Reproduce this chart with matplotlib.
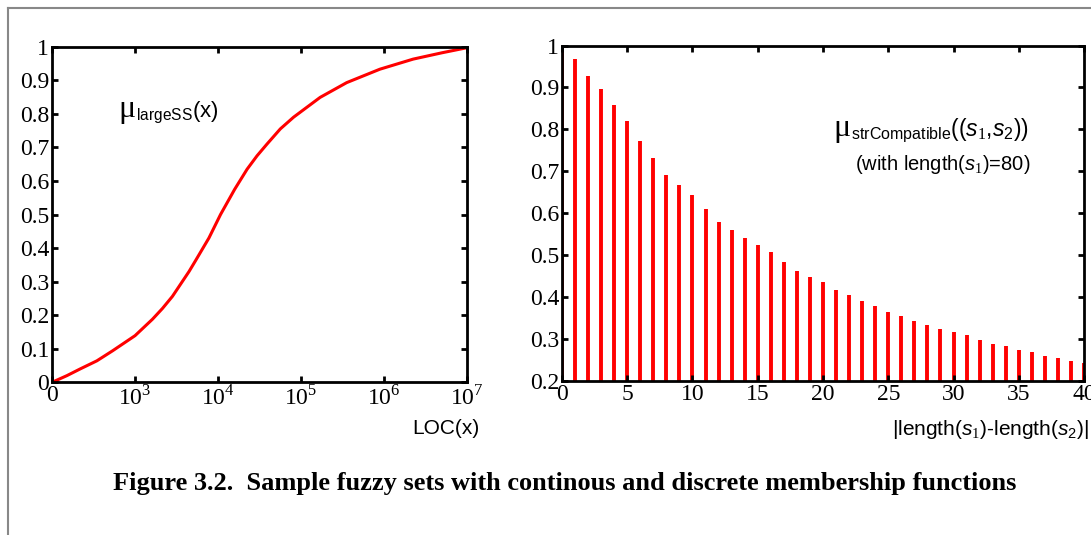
import matplotlib
matplotlib.use("Agg")
import matplotlib.pyplot as plt
from matplotlib.lines import Line2D

# continuous membership function
# (x = position on the LOC axis in decades: 0 -> "0", 1 -> 10^3, ..., 5 -> 10^7)
LOC_POS = [0.0, 0.18, 0.34, 0.54, 0.73, 1.0, 1.21, 1.33, 1.45, 1.65, 1.73, 1.89, 2.03,
           2.2, 2.35, 2.47, 2.59, 2.75, 2.91, 3.23, 3.55, 3.95, 4.35, 4.7, 5.0]
MU_LARGE = [0.0, 0.02, 0.04, 0.064, 0.094, 0.139, 0.188, 0.22, 0.256, 0.33, 0.363, 0.43,
            0.50, 0.575, 0.635, 0.675, 0.71, 0.755, 0.79, 0.849, 0.893, 0.933, 0.963,
            0.982, 0.997]
LOC_TICKS = [0, 1, 2, 3, 4, 5]
LOC_TICK_LABELS = ["0", "10$^{3}$", "10$^{4}$", "10$^{5}$", "10$^{6}$", "10$^{7}$"]

# discrete membership function
LEN_DIFF = list(range(0, 41))
MU_STR = [1.0, 0.968, 0.928, 0.897, 0.859, 0.819, 0.772, 0.731, 0.692, 0.668, 0.644,
          0.611, 0.580, 0.561, 0.542, 0.524, 0.507, 0.484, 0.463, 0.448, 0.436,
          0.418, 0.405, 0.391, 0.378, 0.364, 0.355, 0.342, 0.334, 0.323, 0.316,
          0.309, 0.298, 0.289, 0.284, 0.275, 0.269, 0.260, 0.254, 0.247, 0.244]

Y_LEFT_TICKS = [0, 0.1, 0.2, 0.3, 0.4, 0.5, 0.6, 0.7, 0.8, 0.9, 1]
Y_LEFT_LABELS = ["0", "0.1", "0.2", "0.3", "0.4", "0.5", "0.6", "0.7", "0.8", "0.9", "1"]
Y_RIGHT_TICKS = [0.2, 0.3, 0.4, 0.5, 0.6, 0.7, 0.8, 0.9, 1]
Y_RIGHT_LABELS = ["0.2", "0.3", "0.4", "0.5", "0.6", "0.7", "0.8", "0.9", "1"]
X_RIGHT_TICKS = [0, 5, 10, 15, 20, 25, 30, 35, 40]

CAPTION = "Figure 3.2.  Sample fuzzy sets with continous and discrete membership functions"

plt.rcParams["font.family"] = ["Liberation Serif", "DejaVu Serif"]
plt.rcParams["mathtext.fontset"] = "custom"
plt.rcParams["mathtext.rm"] = "Liberation Serif"
plt.rcParams["mathtext.sf"] = "Liberation Sans"
plt.rcParams["mathtext.it"] = "Liberation Sans:italic"


def style_axes(ax):
    for sp in ax.spines.values():
        sp.set_linewidth(2.0)
    ax.tick_params(direction="in", length=4, width=2, top=True, right=True,
                   labelsize=17, pad=2)


def mu_label(ax, x, y, rest, size=16):
    # big serif mu, then subscript and argument on the same baseline
    mu = ax.text(x, y, "\u03bc", transform=ax.transAxes, va="baseline",
                 family="Liberation Serif", fontsize=23)
    ax.annotate(rest, xy=(1, 0), xycoords=mu, xytext=(0.5, 5.0),
                textcoords="offset points", va="baseline", ha="left",
                family="Liberation Sans", fontsize=size)


fig = plt.figure(figsize=(10.91, 5.35), dpi=100)

# left: continuous
ax1 = fig.add_axes([0.0477, 0.2854, 0.3804, 0.6273])
ax1.plot(LOC_POS, MU_LARGE, color="red", lw=2.2, solid_joinstyle="round")
ax1.set_xlim(0, 5)
ax1.set_ylim(0, 1)
ax1.set_xticks(LOC_TICKS)
ax1.set_xticklabels(LOC_TICK_LABELS)
ax1.set_yticks(Y_LEFT_TICKS)
ax1.set_yticklabels(Y_LEFT_LABELS)
style_axes(ax1)
mu_label(ax1, 0.159, 0.79, r"$_{\mathsf{largeSS}}$(x)")
ax1.text(1.03, -0.11, "LOC(x)", transform=ax1.transAxes, ha="right", va="top",
         family="Liberation Sans", fontsize=15)

# right: discrete
ax2 = fig.add_axes([0.5151, 0.2879, 0.4785, 0.627])
ax2.vlines(LEN_DIFF, 0.2, MU_STR, color="red", lw=2.8, zorder=1)
ax2.set_xlim(0, 40)
ax2.set_ylim(0.2, 1)
ax2.set_xticks(X_RIGHT_TICKS)
ax2.set_yticks(Y_RIGHT_TICKS)
ax2.set_yticklabels(Y_RIGHT_LABELS)
style_axes(ax2)
mu_label(ax2, 0.519, 0.73, r"$_{\mathsf{strCompatible}}$(($s_{\mathit{1}}$,$s_{\mathsf{2}}$))",
         size=16.5)
ax2.text(0.897, 0.644, r"(with length($s_{\mathit{1}}$)=80)",
         transform=ax2.transAxes, ha="right", va="center", family="Liberation Sans",
         fontsize=14.5)
ax2.text(1.01, -0.11, r"|length($s_{\mathit{1}}$)-length($s_{\mathsf{2}}$)|",
         transform=ax2.transAxes, ha="right", va="top", family="Liberation Sans",
         fontsize=15)

fig.text(0.518, 0.097, CAPTION, ha="center", va="center", fontsize=19, fontweight="bold")

# grey page frame
fig.add_artist(Line2D([8 / 1091, 8 / 1091], [0, 1 - 8 / 535], transform=fig.transFigure,
                      color="#888888", lw=1.5))
fig.add_artist(Line2D([8 / 1091, 1], [1 - 8 / 535, 1 - 8 / 535], transform=fig.transFigure,
                      color="#888888", lw=1.5))

fig.savefig("out.png", dpi=100)
